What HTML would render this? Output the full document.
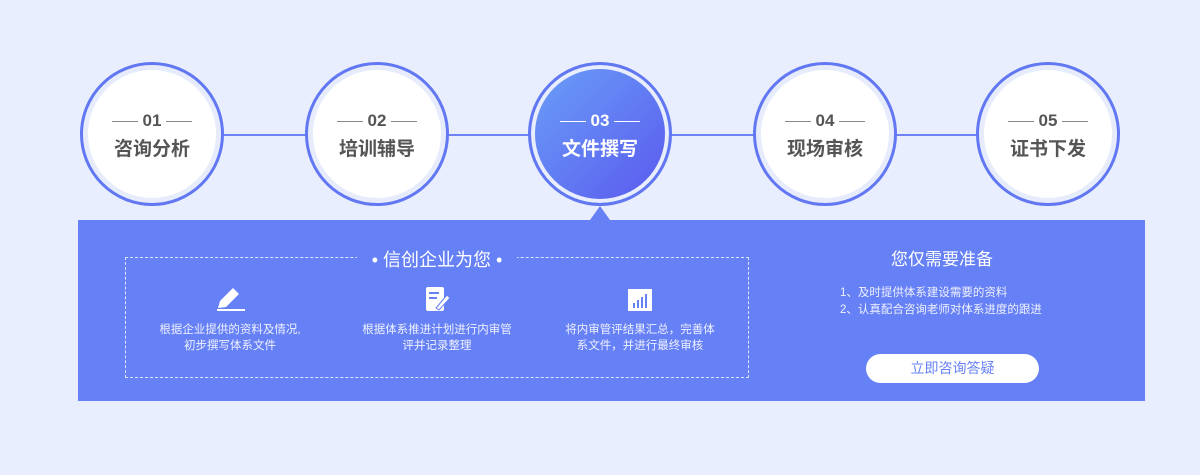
<!DOCTYPE html>
<html><head><meta charset="utf-8"><style>
body{margin:0;width:1200px;height:475px;background:#e8eefd;position:relative;overflow:hidden;font-family:"Liberation Sans","Noto Sans CJK SC",sans-serif}
.line{position:absolute;left:150px;top:134px;width:900px;height:2px;background:#6f82f3}
.c{position:absolute;width:144px;height:144px;border-radius:50%;border:3px solid #6277f2;background:#fff;box-sizing:border-box;top:62px;box-shadow:inset 0 0 0 5px #e6ecfc}
.c .n{position:absolute;top:46px;width:100%;text-align:center;font-size:17px;font-weight:bold;color:#555}
.c .n:before,.c .n:after{content:"";display:inline-block;width:26px;height:1px;background:#888;vertical-align:middle;margin:0 5px}
.c .t{position:absolute;top:69px;width:100%;text-align:center;font-size:19px;font-weight:bold;color:#555}
.c.a{background:linear-gradient(135deg,#6aa0f8,#5a58ee);box-shadow:inset 0 0 0 4px #e8eefd}
.c.a .n,.c.a .t{color:#fff}.c.a .n:before,.c.a .n:after{background:#fff}
.panel{position:absolute;left:78px;top:220px;width:1067px;height:181px;background:#6680f6}
.tri{position:absolute;left:590px;top:206px;border:10px solid transparent;border-bottom:14px solid #6680f6;border-top:0}
.box{position:absolute;left:125px;top:257px;width:622px;height:119px;border:1px dashed #dfe5ff}
.bt{position:absolute;left:357px;top:246px;width:160px;text-align:center;background:#6680f6;color:#fff;font-size:18px}
.col{position:absolute;top:286px;width:200px;text-align:center;color:#eef1ff;font-size:11.5px;line-height:16px}
.col svg{display:block;margin:0 auto 10px}
</style></head><body>
<div class="line"></div>
<div class="c" style="left:80px"><div class="n">01</div><div class="t">咨询分析</div></div>
<div class="c" style="left:305px"><div class="n">02</div><div class="t">培训辅导</div></div>
<div class="c a" style="left:528px"><div class="n">03</div><div class="t">文件撰写</div></div>
<div class="c" style="left:753px"><div class="n">04</div><div class="t">现场审核</div></div>
<div class="c" style="left:976px"><div class="n">05</div><div class="t">证书下发</div></div>
<div class="tri"></div>
<div class="panel"></div>
<div class="box"></div>
<div class="bt">• 信创企业为您 •</div>
<div class="col" style="left:130px"><svg width="30" height="26"><path d="M3 22 L5 15 L18 2 L24 8 L11 21 Z" fill="#fff"/><rect x="2" y="23" width="28" height="2" fill="#fff"/></svg>根据企业提供的资料及情况,<br>初步撰写体系文件</div>
<div class="col" style="left:337px"><svg width="28" height="26"><rect x="3" y="1" width="18" height="24" rx="2" fill="#fff"/><rect x="6" y="6" width="10" height="2" fill="#6680f6"/><rect x="6" y="11" width="8" height="2" fill="#6680f6"/><path d="M13 22 L24 9 L27 12 L16 24 Z" fill="#fff" stroke="#6680f6"/></svg>根据体系推进计划进行内审管<br>评并记录整理</div>
<div class="col" style="left:540px"><svg width="26" height="26"><rect x="1" y="3" width="24" height="22" fill="#fff"/><rect x="6" y="17" width="2" height="5" fill="#6680f6"/><rect x="10" y="14" width="2" height="8" fill="#6680f6"/><rect x="14" y="11" width="2" height="11" fill="#6680f6"/><rect x="18" y="8" width="2" height="14" fill="#6680f6"/></svg>将内审管评结果汇总，完善体<br>系文件，并进行最终审核</div>
<div style="position:absolute;left:842px;top:245px;width:200px;text-align:center;color:#fff;font-size:17px">您仅需要准备</div>
<div style="position:absolute;left:840px;top:285px;color:#eef1ff;font-size:11.5px;line-height:17px">1、及时提供体系建设需要的资料<br>2、认真配合咨询老师对体系进度的跟进</div>
<div style="position:absolute;left:866px;top:354px;width:173px;height:29px;border-radius:15px;background:#fff;color:#6680f6;font-size:14px;text-align:center;line-height:29px">立即咨询答疑</div>
</body></html>
